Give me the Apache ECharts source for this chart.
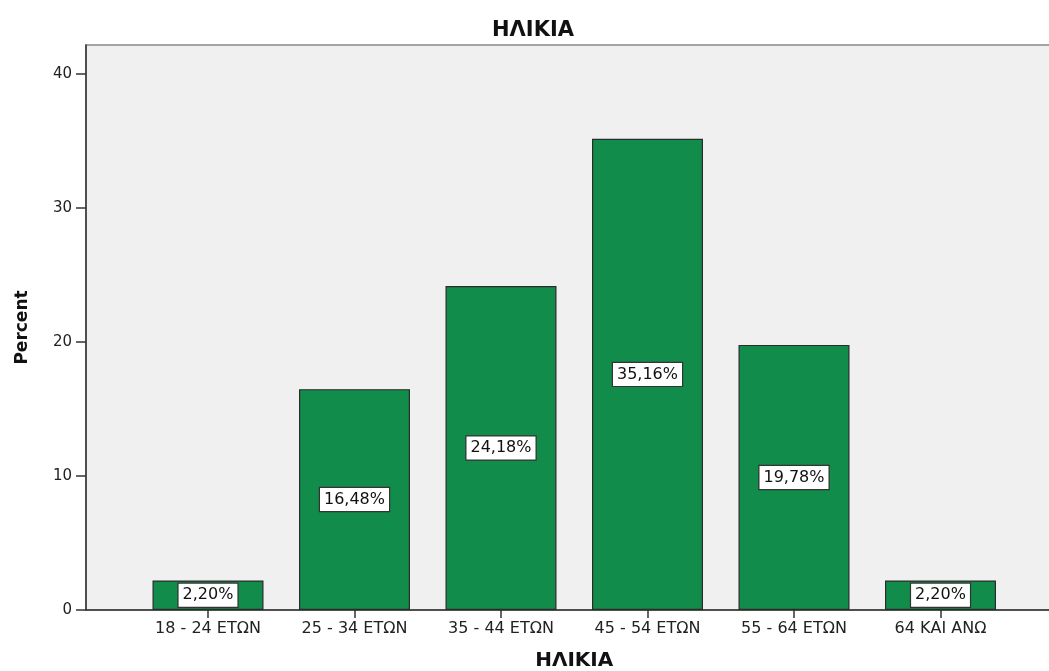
<!DOCTYPE html>
<html>
<head>
<meta charset="utf-8">
<script src="https://cdn.jsdelivr.net/npm/echarts@6/dist/echarts.min.js"></script>
<style>html,body{margin:0;padding:0;background:#fff;}#c{width:1049px;height:671px;}</style>
</head>
<body>
<div id="c"></div>
<script>
const categories = ['18 - 24 ΕΤΩΝ', '25 - 34 ΕΤΩΝ', '35 - 44 ΕΤΩΝ', '45 - 54 ΕΤΩΝ', '55 - 64 ΕΤΩΝ', '64 ΚΑΙ ΑΝΩ'];
const percentValues = [2.20, 16.48, 24.18, 35.16, 19.78, 2.20];
const yTicks = [0, 10, 20, 30, 40];

const FONT = 'DejaVu Sans';
const yMax = 42.16;
const chart = echarts.init(document.getElementById('c'));
chart.setOption({
  animation: false,
  backgroundColor: '#ffffff',
  title: {
    text: 'ΗΛΙΚΙΑ',
    left: 528,
    textAlign: 'center',
    top: 15,
    textStyle: { fontFamily: FONT, fontWeight: 'bold', fontSize: 21, color: '#111' }
  },
  grid: [
    { left: 86, top: 45, width: 965, height: 565, outerBoundsMode: 'none', containLabel: false, show: true, backgroundColor: '#f0f0f0', borderColor: '#888', borderWidth: 1.5 },
    { left: 134.75, top: 45, width: 879, height: 565, outerBoundsMode: 'none', containLabel: false }
  ],
  xAxis: [
    { gridIndex: 0, type: 'value', min: 0, max: 1, axisLine: { show: true, onZero: false, lineStyle: { color: '#333', width: 1.5 } }, axisTick: { show: false }, axisLabel: { show: false }, splitLine: { show: false } },
    {
      gridIndex: 1, type: 'category', data: categories,
      axisLine: { show: false },
      axisTick: { show: true, alignWithLabel: true, length: 8, lineStyle: { color: '#333', width: 1.5 } },
      axisLabel: { fontFamily: FONT, fontSize: 16, color: '#222', margin: 11 },
      name: 'ΗΛΙΚΙΑ', nameLocation: 'middle', nameGap: 41,
      nameTextStyle: { fontFamily: FONT, fontWeight: 'bold', fontSize: 20, color: '#111' }
    }
  ],
  yAxis: [
    {
      gridIndex: 0, type: 'value', min: 0, max: yMax, interval: 10,
      axisLine: { show: true, lineStyle: { color: '#333', width: 1.5 } },
      axisTick: { show: true, length: 10, lineStyle: { color: '#333', width: 1.5 } },
      axisLabel: { fontFamily: FONT, fontSize: 15, color: '#222', margin: 14, showMaxLabel: false,
        formatter: v => yTicks.includes(v) ? String(v) : '' },
      splitLine: { show: false },
      name: 'Percent', nameLocation: 'middle', nameGap: 55, nameRotate: 90,
      nameTextStyle: { fontFamily: FONT, fontWeight: 'bold', fontSize: 17, color: '#111' }
    },
    { gridIndex: 1, type: 'value', min: 0, max: yMax, show: false }
  ],
  series: [{
    type: 'bar', xAxisIndex: 1, yAxisIndex: 1,
    data: percentValues,
    barWidth: 111,
    itemStyle: { color: '#128c4a', borderColor: '#2b2b2b', borderWidth: 1.2 },
    label: {
      show: true, position: 'inside',
      formatter: p => p.value.toFixed(2).replace('.', ',') + '%',
      fontFamily: FONT, fontSize: 16, color: '#111',
      backgroundColor: '#ffffff', borderColor: '#333', borderWidth: 1.2,
      padding: [4, 4, 3, 4]
    }
  }]
});
</script>
</body>
</html>
